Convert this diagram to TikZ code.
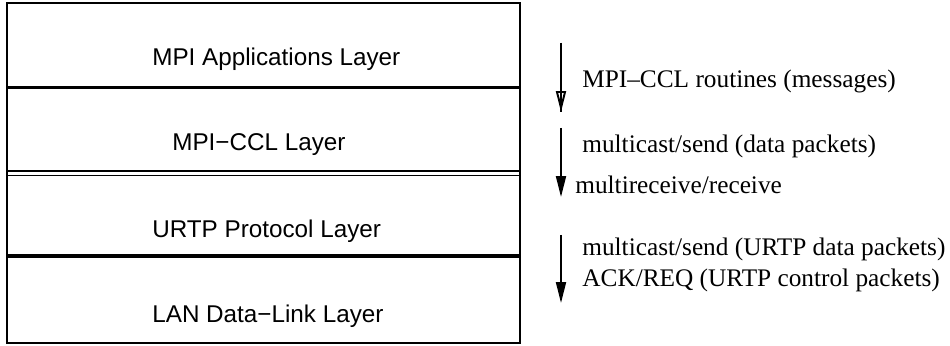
\documentclass[tikz,border=0pt]{standalone}
\usepackage{fontspec}
\setmainfont{Liberation Serif}
\setsansfont{Liberation Sans}
\usetikzlibrary{arrows.meta}

\begin{document}
\begin{tikzpicture}[x=0.02cm, y=0.02cm,
  >={Triangle[length=0.42cm, width=0.2cm]},
  layertxt/.style={anchor=base west, inner sep=0, font=\sffamily\fontsize{13.8}{16}\selectfont},
  msgtxt/.style={anchor=base west, inner sep=0, font=\fontsize{14.4}{17}\selectfont},
  flow/.style={line width=1.1pt}]
  \useasboundingbox (0,0) rectangle (950,345);
  % layer stack
  \draw[line width=1.4pt] (7,2) rectangle (520,342);
  \draw[line width=1.4pt] (7,257.5) -- (520,257.5);
  \draw[line width=0.8pt] (7,174) -- (520,174) (7,169.5) -- (520,169.5);
  \draw[line width=2pt] (7,89) -- (520,89);
  \node[layertxt] (app)  at (152,279) {MPI Applications Layer};
  \node[layertxt] (ccl)  at (172,194) {MPI−CCL Layer};
  \node[layertxt] (urtp) at (152,108) {URTP Protocol Layer};
  \node[layertxt] (lan)  at (152,23)  {LAN Data−Link Layer};
  % messages between layers
  \coordinate (a1s) at (561,302); \coordinate (a1e) at (561,233);
  \coordinate (a2s) at (561,217); \coordinate (a2e) at (561,148);
  \coordinate (a3s) at (561,110); \coordinate (a3e) at (561,42);
  \draw[flow, -{Triangle[open, length=0.42cm, width=0.2cm]}] (a1s) -- (a1e);
  \draw[flow] (a1s) -- (a1e);
  \draw[flow, ->] (a2s) -- (a2e);
  \draw[flow, ->] (a3s) -- (a3e);
  \node[msgtxt] (routines) at (582,257) {MPI–CCL routines (messages)};
  \node[msgtxt] (send)     at (582,192) {multicast/send (data packets)};
  \node[msgtxt] (recv)     at (575,151) {multireceive/receive};
  \node[msgtxt] (usend)    at (582,90)  {multicast/send (URTP data packets)};
  \node[msgtxt] (ackreq)   at (582,58)  {ACK/REQ (URTP control packets)};
\end{tikzpicture}
\end{document}
